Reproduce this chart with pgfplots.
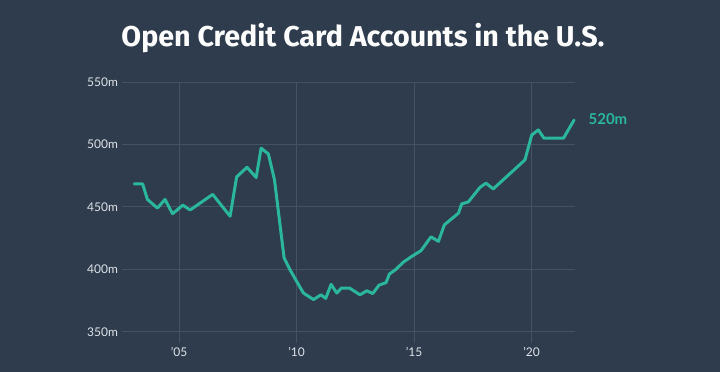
\documentclass[border=0pt]{standalone}
\usepackage{pgfplots}
\pgfplotsset{compat=1.18}
\usepackage{fontspec}
\setmainfont{Lato}
\newfontfamily\titlefont{Fira Sans}
\definecolor{bg}{RGB}{46,60,77}
\definecolor{gridc}{RGB}{68,83,99}
\definecolor{teal}{RGB}{42,183,155}
\definecolor{lab}{RGB}{222,227,232}
\begin{document}
\begin{tikzpicture}
\fill[bg] (0,0) rectangle (720pt,372pt);
\node[text=white] at (363pt,334pt) {\resizebox{483pt}{!}{\titlefont\bfseries Open Credit Card Accounts in the U.S.}};
\begin{axis}[
  at={(122pt,29pt)}, anchor=south west,
  scale only axis, width=453pt, height=261pt,
  xmin=2002.57, xmax=2021.85, ymin=341, ymax=550,
  axis line style={draw=none},
  major tick length=0pt,
  grid=major, grid style={gridc, line width=0.8pt},
  xtick={2005,2010,2015,2020},
  xticklabels={\textquoteright05,\textquoteright10,\textquoteright15,\textquoteright20},
  ytick={350,400,450,500,550},
  yticklabels={350m,400m,450m,500m,550m},
  ticklabel style={font=\fontsize{12}{13}\selectfont, text=lab},
  yticklabel style={xshift=-0.5pt},
  xticklabel style={yshift=-1pt},
  clip=false,
]
\addplot[teal, line width=3pt, line join=round, line cap=round] coordinates {
(2003.09,468.4) (2003.45,468.4) (2003.65,456) (2004.08,449) (2004.40,456)
(2004.72,444.5) (2005.16,451.4) (2005.47,447.5) (2006.43,460) (2007.17,442.5)
(2007.45,474) (2007.89,481.7) (2008.28,473.5) (2008.49,497) (2008.80,492.4)
(2009.06,471.6) (2009.47,409) (2009.72,399.6) (2010.29,381) (2010.72,375.8)
(2011.04,379.6) (2011.24,376.7) (2011.47,388) (2011.71,381) (2011.91,385)
(2012.25,385) (2012.70,379.6) (2012.99,382.8) (2013.24,380.6) (2013.51,387.3)
(2013.81,389.4) (2013.95,396.2) (2014.23,400) (2014.54,405.7) (2014.90,410.3)
(2015.30,415) (2015.72,426) (2016.04,422.4) (2016.29,435.6) (2016.89,445)
(2017.03,452.4) (2017.31,454) (2017.81,465.7) (2018.06,469) (2018.37,464.4)
(2019.72,487.6) (2020.01,507.6) (2020.29,511.6) (2020.53,505) (2021.36,505)
(2021.81,519.5)
};
\node[anchor=west, text=teal, font=\fontsize{15}{16}\selectfont\bfseries, xshift=11pt] at (axis cs:2021.81,520.4) {520m};
\end{axis}
\end{tikzpicture}
\end{document}
